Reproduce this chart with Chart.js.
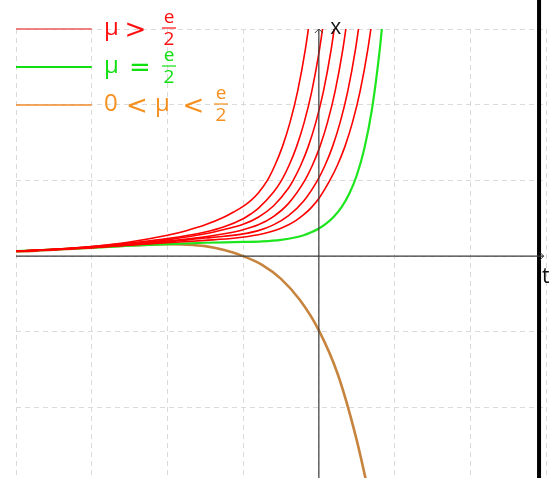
<!DOCTYPE html>
<html>
<head>
<meta charset="utf-8">
<script src="https://cdn.jsdelivr.net/npm/chart.js@4/dist/chart.umd.min.js"></script>
<style>
  html, body { margin: 0; padding: 0; background: #fff; }
  canvas { display: block; }
</style>
</head>
<body>
<canvas id="chart" width="557" height="478"></canvas>
<script>
// 目盛り（グリッド線の位置）
const tTicks = [-4, -3, -2, -1, 0, 1, 2, 3];
const xTicks = [-2, -1, 0, 1, 2, 3];

// μ > e/2 の解曲線（赤）6本
const redT = [
  [-4, -3.5, -3, -2.5, -2, -1.75, -1.5, -1.25, -1.125, -1, -0.9, -0.8, -0.68, -0.58, -0.48, -0.38, -0.28, -0.18, -0.08],
  [-4, -3.5, -3, -2.5, -2, -1.5, -1.25, -1, -0.9, -0.8, -0.6, -0.493, -0.393, -0.293, -0.193, -0.093, 0.007, 0.107],
  [-4, -3.5, -3, -2.5, -2, -1.5, -1.25, -1, -0.8, -0.6, -0.4, -0.339, -0.239, -0.139, -0.039, 0.061, 0.161, 0.261],
  [-4, -3.5, -3, -2.5, -2, -1.5, -1.25, -1, -0.8, -0.6, -0.4, -0.185, -0.085, 0.015, 0.115, 0.215, 0.315, 0.415],
  [-4, -3.5, -3, -2.5, -2, -1.5, -1.25, -1, -0.8, -0.6, -0.4, -0.2, -0.018, 0.082, 0.182, 0.282, 0.382, 0.482, 0.582],
  [-4, -3.5, -3, -2.5, -2, -1.5, -1.1, -0.8, -0.65, -0.5, -0.4, -0.3, -0.2, -0.1, 0, 0.145, 0.245, 0.345, 0.445, 0.545, 0.645, 0.745]
];
const redX = [
  [0.065, 0.09, 0.128, 0.187, 0.275, 0.336, 0.414, 0.517, 0.583, 0.657, 0.733, 0.835, 1.0, 1.2, 1.45, 1.77, 2.18, 2.72, 3.42],
  [0.065, 0.089, 0.126, 0.175, 0.231, 0.319, 0.388, 0.495, 0.557, 0.631, 0.843, 1.0, 1.2, 1.45, 1.77, 2.18, 2.72, 3.42],
  [0.065, 0.088, 0.118, 0.16, 0.215, 0.295, 0.352, 0.421, 0.514, 0.662, 0.90, 1.0, 1.2, 1.45, 1.77, 2.18, 2.72, 3.42],
  [0.065, 0.087, 0.115, 0.152, 0.2, 0.255, 0.295, 0.349, 0.414, 0.523, 0.697, 1.0, 1.2, 1.45, 1.77, 2.18, 2.72, 3.42],
  [0.065, 0.086, 0.113, 0.148, 0.188, 0.239, 0.263, 0.294, 0.337, 0.413, 0.534, 0.727, 1.0, 1.2, 1.45, 1.77, 2.18, 2.72, 3.42],
  [0.066, 0.085, 0.112, 0.144, 0.176, 0.208, 0.239, 0.282, 0.318, 0.369, 0.415, 0.473, 0.547, 0.641, 0.762, 1.0, 1.2, 1.45, 1.77, 2.18, 2.72, 3.42]
];

// μ = e/2 の解曲線（緑）
const greenT = [-4, -3.5, -3, -2.5, -2, -1.5, -1, -0.75, -0.5, -0.3, -0.2, -0.1, 0, 0.1, 0.2, 0.3, 0.4, 0.5, 0.6, 0.7, 0.8, 0.85, 0.9];
const greenX = [0.068, 0.088, 0.112, 0.138, 0.16, 0.177, 0.188, 0.196, 0.216, 0.25, 0.276, 0.315, 0.366, 0.434, 0.525, 0.649, 0.821, 1.065, 1.418, 1.93, 2.69, 3.2, 3.8];

// 0 < μ < e/2 の解曲線（橙）
const orangeT = [-4, -3.5, -3, -2.5, -2.25, -2, -1.75, -1.5, -1.25, -1, -0.75, -0.5, -0.25, 0, 0.25, 0.5, 0.75];
const orangeX = [0.058, 0.085, 0.113, 0.14, 0.152, 0.157, 0.152, 0.132, 0.08, 0.0, -0.115, -0.3, -0.58, -0.98, -1.56, -2.43, -3.55];

function toPoints(ts, xs) {
    return ts.map((t, i) => ({ x: t, y: xs[i] }));
}

const datasets = [];
redT.forEach((ts, i) => {
    datasets.push({
        data: toPoints(ts, redX[i]),
        borderColor: '#ff0000',
        borderWidth: 1.6
    });
});
datasets.push({ data: toPoints(greenT, greenX), borderColor: '#1ee61e', borderWidth: 2.2 });
datasets.push({ data: toPoints(orangeT, orangeX), borderColor: '#c6843f', borderWidth: 2.6 });

// 凡例（数式は分数を手で組む）
const legendRows = [
    { y: 29, color: '#ff1010', lineColor: '#ec5a5a', lineWidth: 1.5,
      parts: [{ t: 'μ', x: 104 }, { op: '>', x: 135.5 }, { num: 'e', den: '2', x: 169 }] },
    { y: 67, color: '#10e010', lineColor: '#10e010', lineWidth: 2.2,
      parts: [{ t: 'μ', x: 104 }, { op: '=', x: 140 }, { num: 'e', den: '2', x: 169 }] },
    { y: 105, color: '#f5901e', lineColor: '#f08a28', lineWidth: 1.5,
      parts: [{ t: '0', x: 104 }, { op: '<', x: 137 }, { t: 'μ', x: 155 }, { op: '<', x: 193.5 }, { num: 'e', den: '2', x: 221 }] }
];

const decor = {
    id: 'decor',
    beforeDatasetsDraw(chart) {
        const ctx = chart.ctx;
        const xs = chart.scales.x;
        // 右側の太い縦線
        ctx.save();
        ctx.fillStyle = '#000';
        const bx = xs.getPixelForValue(2.908);
        ctx.fillRect(bx - 2, 0, 4, chart.height);
        ctx.restore();
    },
    afterDatasetsDraw(chart) {
        const ctx = chart.ctx;
        const xs = chart.scales.x;
        const ys = chart.scales.y;
        const x0 = xs.getPixelForValue(0);
        const y0 = ys.getPixelForValue(0);
        const left = xs.getPixelForValue(-4);
        const right = xs.getPixelForValue(2.97);
        const top = ys.getPixelForValue(3);

        ctx.save();
        // 座標軸
        ctx.strokeStyle = '#3c3c3c';
        ctx.lineWidth = 1.2;
        ctx.beginPath();
        ctx.moveTo(left, y0);
        ctx.lineTo(right, y0);
        ctx.moveTo(x0, chart.height);
        ctx.lineTo(x0, top);
        ctx.stroke();
        // 矢印
        ctx.lineWidth = 1;
        ctx.beginPath();
        ctx.moveTo(right - 4, y0 - 4);
        ctx.lineTo(right, y0);
        ctx.lineTo(right - 4, y0 + 4);
        ctx.moveTo(x0 - 4, top + 4);
        ctx.lineTo(x0, top);
        ctx.lineTo(x0 + 4, top + 4);
        ctx.stroke();

        // 軸ラベル
        ctx.fillStyle = '#111';
        ctx.font = '21px "Open Sans"';
        ctx.textAlign = 'center';
        ctx.textBaseline = 'alphabetic';
        ctx.fillText('x', x0 + 17, top + 5);
        ctx.fillText('t', right + 2, y0 + 27);

        // 凡例
        legendRows.forEach(row => {
            ctx.strokeStyle = row.lineColor;
            ctx.lineWidth = row.lineWidth;
            ctx.beginPath();
            ctx.moveTo(left, row.y);
            ctx.lineTo(xs.getPixelForValue(-3), row.y);
            ctx.stroke();

            ctx.fillStyle = row.color;
            ctx.strokeStyle = row.color;
            row.parts.forEach(p => {
                if (p.t) {
                    ctx.font = '24px "Open Sans"';
                    ctx.textAlign = 'left';
                    ctx.fillText(p.t, p.x, row.y + 6);
                } else if (p.op) {
                    ctx.font = '26px "DejaVu Sans"';
                    ctx.textAlign = 'center';
                    ctx.fillText(p.op, p.x, row.y + 9);
                } else {
                    ctx.font = '19px "Open Sans"';
                    ctx.textAlign = 'center';
                    ctx.fillText(p.num, p.x, row.y - 6);
                    ctx.fillText(p.den, p.x, row.y + 16);
                    ctx.lineWidth = 1.2;
                    ctx.beginPath();
                    ctx.moveTo(p.x - 7, row.y - 1);
                    ctx.lineTo(p.x + 7, row.y - 1);
                    ctx.stroke();
                }
            });
        });
        ctx.restore();
    }
};

new Chart(document.getElementById('chart').getContext('2d'), {
    type: 'scatter',
    data: { datasets: datasets },
    options: {
        responsive: false,
        animation: false,
        layout: { padding: { left: 16, right: 11, top: 29, bottom: 0 } },
        elements: {
            point: { radius: 0 },
            line: { cubicInterpolationMode: 'monotone' }
        },
        datasets: { scatter: { showLine: true } },
        plugins: { legend: { display: false }, tooltip: { enabled: false } },
        scales: {
            x: {
                type: 'linear', min: -4, max: 3,
                ticks: { display: false },
                afterBuildTicks: s => { s.ticks = tTicks.map(v => ({ value: v })); },
                grid: { color: '#dadada', lineWidth: 1, drawTicks: false },
                border: { display: false, dash: [5, 4] }
            },
            y: {
                type: 'linear', min: -2.93, max: 3,
                ticks: { display: false },
                afterBuildTicks: s => { s.ticks = xTicks.map(v => ({ value: v })); },
                grid: { color: '#dadada', lineWidth: 1, drawTicks: false },
                border: { display: false, dash: [5, 4] }
            }
        }
    },
    plugins: [decor]
});
</script>
</body>
</html>
